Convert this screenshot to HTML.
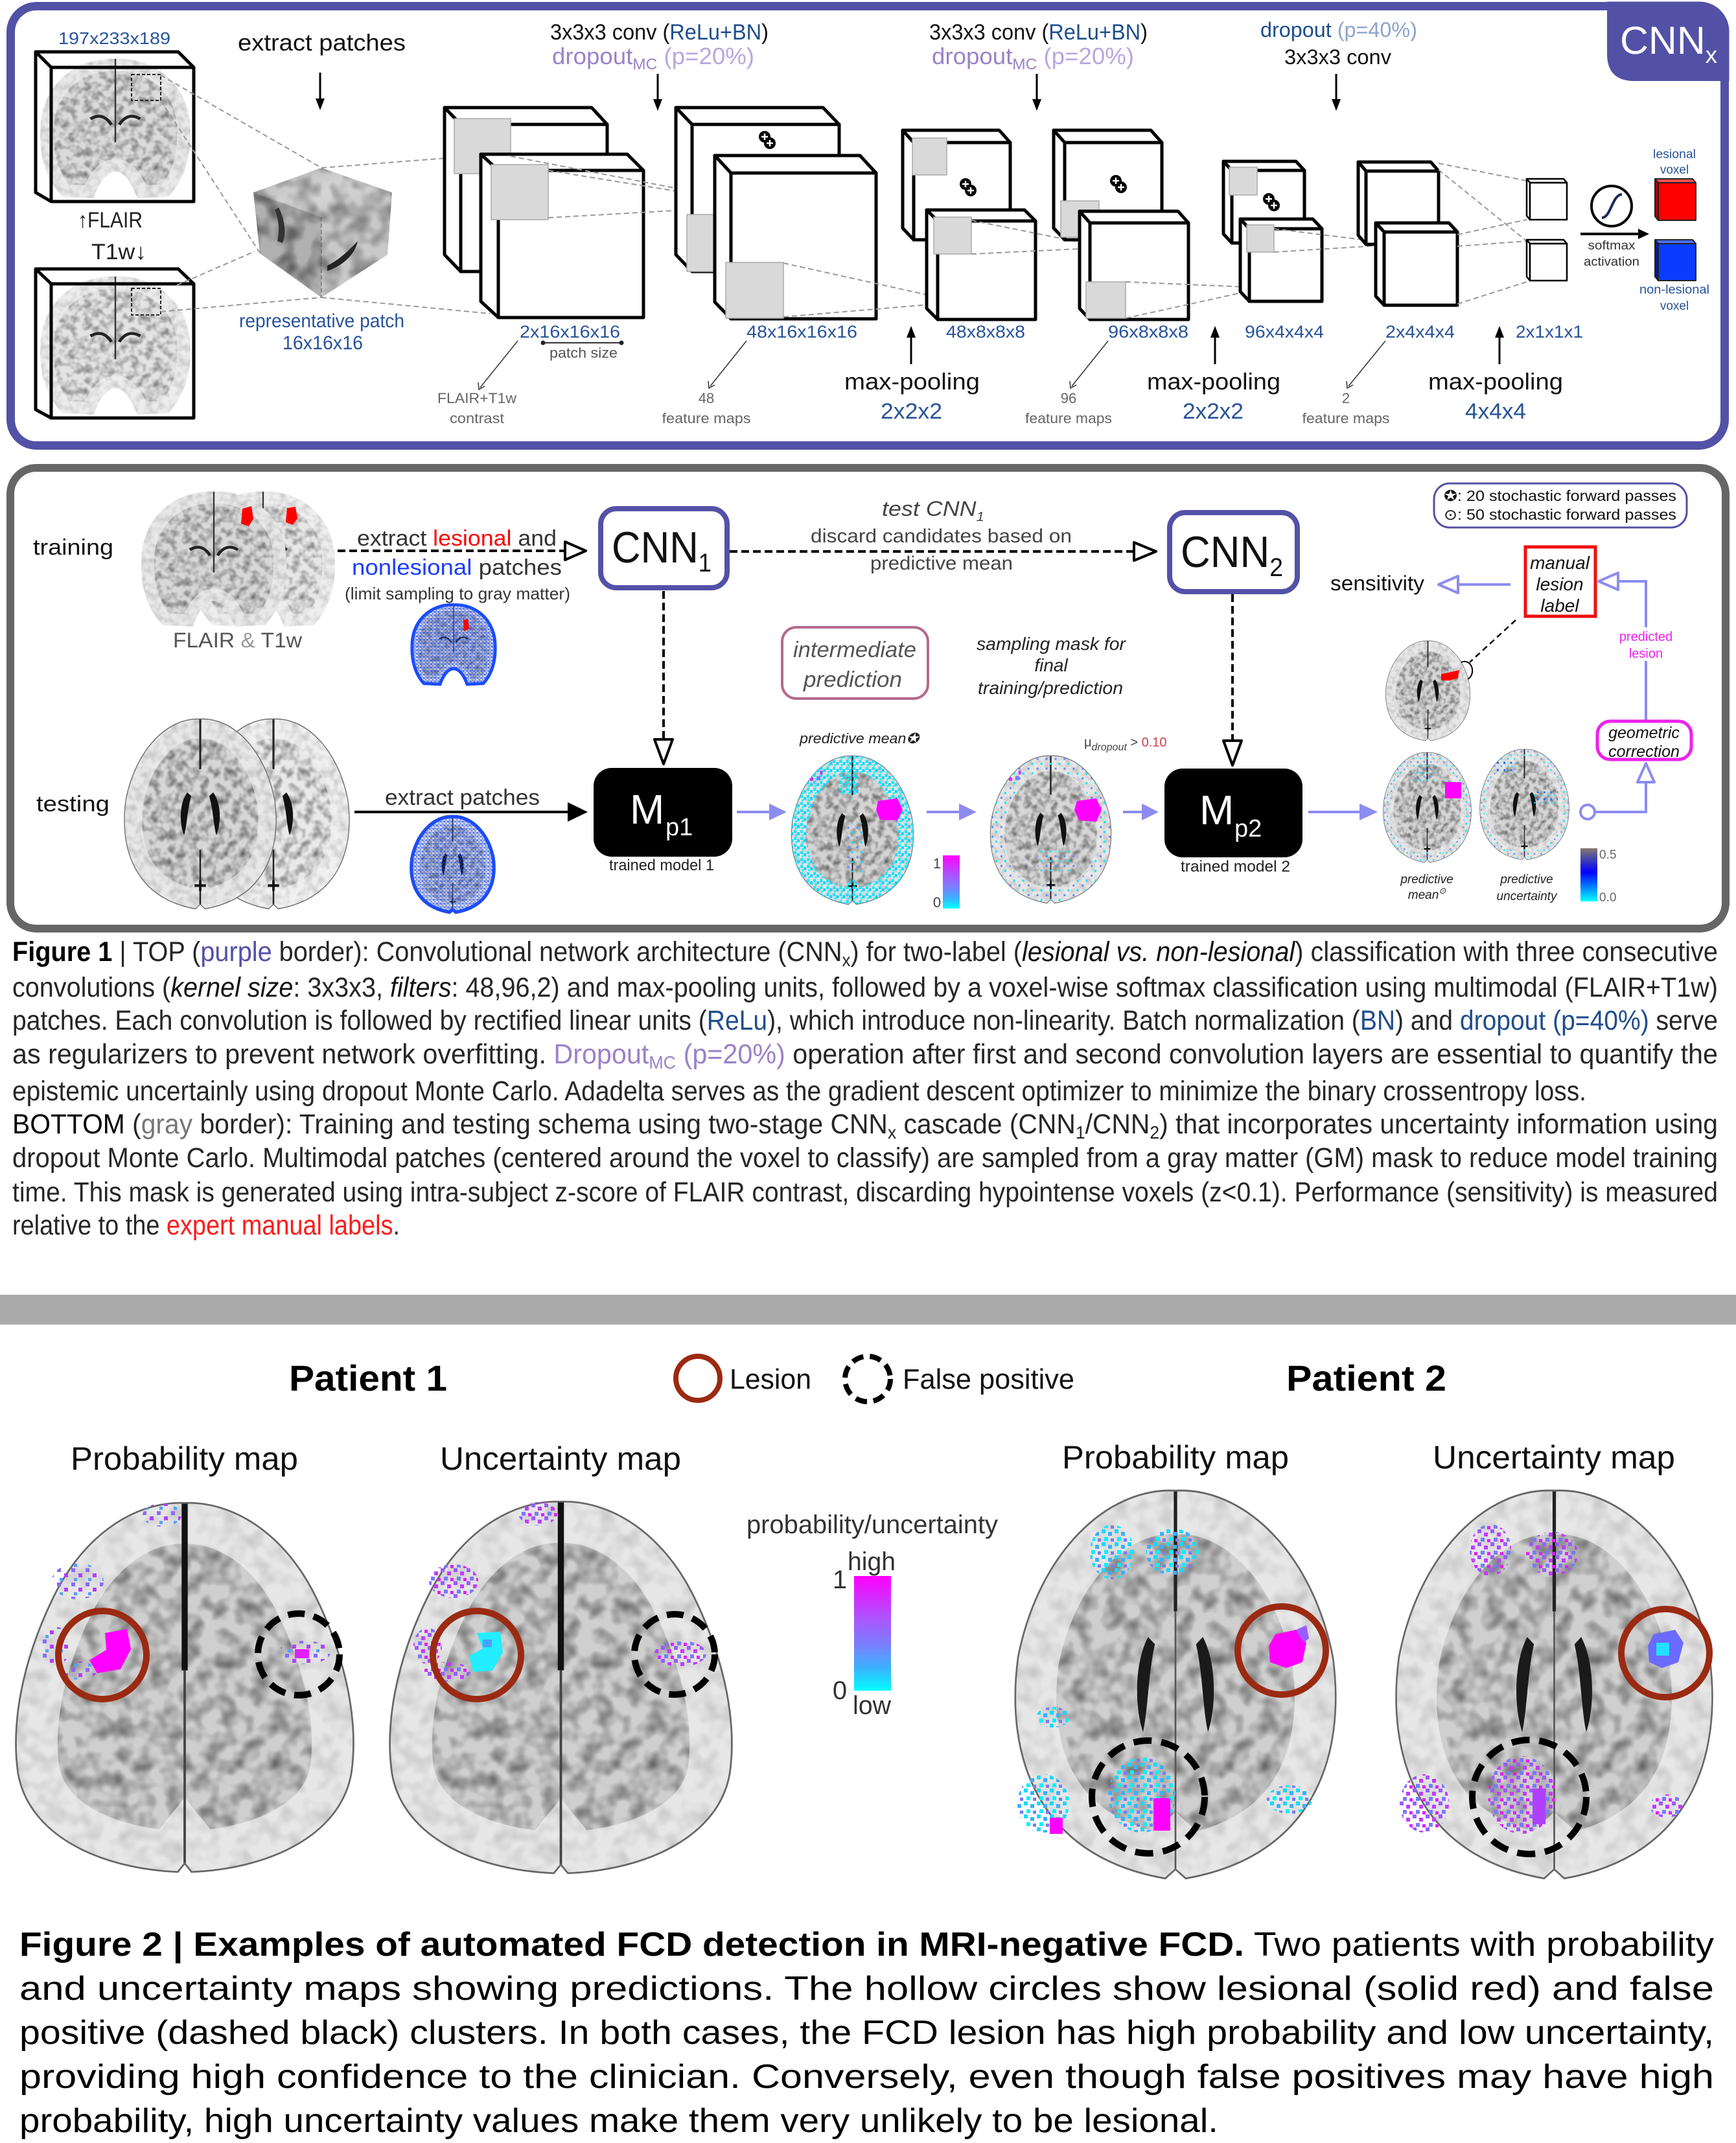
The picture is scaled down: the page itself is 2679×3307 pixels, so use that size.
<!DOCTYPE html>
<html><head><meta charset="utf-8"><title>CNN FCD figure</title>
<style>
html,body{margin:0;padding:0;background:#fff}
svg{display:block}
text{font-family:"Liberation Sans",Arial,sans-serif}
</style></head><body>
<svg xmlns="http://www.w3.org/2000/svg" xmlns:xlink="http://www.w3.org/1999/xlink" width="2679" height="3307" viewBox="0 0 2679 3307">
<defs>
 <filter id="tex" x="0" y="0" width="1" height="1" color-interpolation-filters="sRGB">
  <feTurbulence type="fractalNoise" baseFrequency="0.1" numOctaves="2" seed="7"/>
  <feColorMatrix type="matrix" values="1.8 0 0 0 -0.1  1.8 0 0 0 -0.1  1.8 0 0 0 -0.1  0 0 0 0 1"/>
 </filter>
 <filter id="tex2" x="0" y="0" width="1" height="1" color-interpolation-filters="sRGB">
  <feTurbulence type="fractalNoise" baseFrequency="0.035" numOctaves="2" seed="3"/>
  <feColorMatrix type="matrix" values="2.4 0 0 0 -0.5  2.4 0 0 0 -0.5  2.4 0 0 0 -0.5  0 0 0 0 1"/>
 </filter>
 <clipPath id="axc"><path d="M100,4 C140,2 180,38 192,95 C200,150 180,204 106,216 L100,211 L94,216 C20,204 0,150 8,95 C20,38 60,2 100,4Z"/></clipPath>
 <clipPath id="axe"><path d="M100,2 C128,1 158,20 176,58 C194,96 200,132 196,160 C190,196 150,216 104,218 L100,213 L96,218 C50,216 10,196 4,160 C0,132 6,96 24,58 C42,20 72,1 100,2Z"/></clipPath>
 <clipPath id="coc"><path d="M100,6 C150,4 192,40 196,95 C199,140 188,172 168,194 L128,196 C120,172 110,160 100,160 C90,160 80,172 72,196 L32,194 C12,172 1,140 4,95 C8,40 50,4 100,6Z"/></clipPath>
 <symbol id="axE" viewBox="0 0 200 220" preserveAspectRatio="none">
  <g clip-path="url(#axe)">
   <rect width="200" height="220" fill="currentColor"/>
   <rect width="200" height="220" filter="url(#tex)" opacity="0.45"/>
   <path d="M100,2 C128,1 158,20 176,58 C194,96 200,132 196,160 C190,196 150,216 104,218 L100,213 L96,218 C50,216 10,196 4,160 C0,132 6,96 24,58 C42,20 72,1 100,2Z" fill="none" stroke="#f4f4f4" stroke-width="48" opacity="0.65"/>
   <path d="M100,2 L100,100" stroke="#111" stroke-width="3.5"/>
   <path d="M100,100 L100,216" stroke="#444" stroke-width="1.4"/>
  </g>
  <path d="M100,2 C128,1 158,20 176,58 C194,96 200,132 196,160 C190,196 150,216 104,218 L100,213 L96,218 C50,216 10,196 4,160 C0,132 6,96 24,58 C42,20 72,1 100,2Z" fill="none" stroke="#666" stroke-width="1"/>
 </symbol>
 <symbol id="ax2" viewBox="0 0 200 220" preserveAspectRatio="none">
  <g clip-path="url(#axc)">
   <rect width="200" height="220" fill="currentColor"/>
   <rect width="200" height="220" filter="url(#tex)" opacity="0.5"/>
   <path d="M100,4 C140,2 180,38 192,95 C200,150 180,204 106,216 L100,211 L94,216 C20,204 0,150 8,95 C20,38 60,2 100,4Z" fill="none" stroke="#f4f4f4" stroke-width="44" opacity="0.62"/>
   <path d="M100,2 L100,60" stroke="#222" stroke-width="2.5"/>
   <path d="M100,150 L100,214" stroke="#222" stroke-width="2"/>
   <path d="M84,86 C74,98 74,120 80,134 C84,122 84,104 89,90Z" fill="#111"/>
   <path d="M116,86 C126,98 126,120 120,134 C116,122 116,104 111,90Z" fill="#111"/>
   <path d="M93,190 L107,190 M100,184 L100,196" stroke="#111" stroke-width="3"/>
  </g>
  <path d="M100,4 C140,2 180,38 192,95 C200,150 180,204 106,216 L100,211 L94,216 C20,204 0,150 8,95 C20,38 60,2 100,4Z" fill="none" stroke="#666" stroke-width="1"/>
 </symbol>
 <symbol id="ax3" viewBox="0 0 200 220" preserveAspectRatio="none">
  <g clip-path="url(#axc)">
   <rect width="200" height="220" fill="currentColor"/>
   <rect width="200" height="220" filter="url(#tex)" opacity="0.45"/>
   <path d="M100,4 C140,2 180,38 192,95 C200,150 180,204 106,216 L100,211 L94,216 C20,204 0,150 8,95 C20,38 60,2 100,4Z" fill="none" stroke="#f4f4f4" stroke-width="48" opacity="0.65"/>
   <path d="M100,2 L100,70" stroke="#222" stroke-width="2"/>
   <path d="M100,70 L100,214" stroke="#555" stroke-width="1"/>
   <path d="M84,84 C76,98 76,122 81,136 C84,124 84,104 88,88Z" fill="#1a1a1a"/>
   <path d="M116,84 C124,98 124,122 119,136 C116,124 116,104 112,88Z" fill="#1a1a1a"/>
  </g>
  <path d="M100,4 C140,2 180,38 192,95 C200,150 180,204 106,216 L100,211 L94,216 C20,204 0,150 8,95 C20,38 60,2 100,4Z" fill="none" stroke="#666" stroke-width="1"/>
 </symbol>
 <symbol id="co" viewBox="0 0 200 200" preserveAspectRatio="none">
  <g clip-path="url(#coc)">
   <rect width="200" height="200" fill="currentColor"/>
   <rect width="200" height="200" filter="url(#tex)" opacity="0.45"/>
   <path d="M100,6 C150,4 192,40 196,95 C199,140 188,172 168,194 L128,196 C120,172 110,160 100,160 C90,160 80,172 72,196 L32,194 C12,172 1,140 4,95 C8,40 50,4 100,6Z" fill="none" stroke="#f4f4f4" stroke-width="34" opacity="0.6"/>
   <path d="M100,6 L100,120" stroke="#333" stroke-width="2"/>
   <path d="M68,88 Q84,78 95,96 M105,96 Q116,78 132,88" stroke="#222" stroke-width="4" fill="none"/>
  </g>
 </symbol>
 <symbol id="opl" viewBox="0 0 30 30">
  <circle cx="11" cy="10" r="9" fill="#000"/><circle cx="19" cy="20" r="9" fill="#000"/>
  <path d="M11,5v10M6,10h10M19,15v10M14,20h10" stroke="#fff" stroke-width="2.5"/>
 </symbol>
 <pattern id="spC" width="20" height="20" patternUnits="userSpaceOnUse">
  <rect x="0" y="0" width="6" height="6" fill="#19d8ff"/><rect x="10" y="4" width="6" height="6" fill="#3ab0ff"/>
  <rect x="4" y="12" width="6" height="6" fill="#00f0ff"/><rect x="14" y="14" width="5" height="5" fill="#7a7aff"/>
 </pattern>
 <pattern id="spM" width="20" height="20" patternUnits="userSpaceOnUse">
  <rect x="0" y="0" width="6" height="6" fill="#9b5cff"/><rect x="10" y="5" width="6" height="6" fill="#c33cff"/>
  <rect x="5" y="13" width="6" height="6" fill="#7a7aff"/><rect x="15" y="15" width="5" height="5" fill="#e020ff"/>
 </pattern>
 <pattern id="spP" width="22" height="22" patternUnits="userSpaceOnUse">
  <rect x="0" y="0" width="6" height="6" fill="#8a6bff"/><rect x="11" y="8" width="6" height="6" fill="#b040ff"/>
  <rect x="4" y="15" width="5" height="5" fill="#5aa0ff"/>
 </pattern>
 <pattern id="pc" width="10" height="10" patternUnits="userSpaceOnUse">
  <rect x="0" y="0" width="4" height="4" fill="#00e8ff"/><rect x="5" y="3" width="4" height="4" fill="#10d0ff"/>
  <rect x="2" y="6" width="3" height="3" fill="#00ffff"/>
 </pattern>
 <pattern id="pcs" width="14" height="14" patternUnits="userSpaceOnUse">
  <rect x="0" y="0" width="3" height="3" fill="#00e8ff"/><rect x="8" y="7" width="3" height="3" fill="#6a8aff"/>
 </pattern>
 <pattern id="pbs" width="14" height="14" patternUnits="userSpaceOnUse">
  <rect x="0" y="0" width="4" height="4" fill="#1a70ff"/><rect x="8" y="7" width="3" height="3" fill="#00e0ff"/>
 </pattern>
 <pattern id="pbd" width="8" height="8" patternUnits="userSpaceOnUse">
  <rect x="0" y="0" width="4" height="4" fill="#1a4cff"/><rect x="4" y="4" width="3" height="3" fill="#2a5cff"/><rect x="5" y="0" width="2" height="2" fill="#1040ff"/>
 </pattern>
 <linearGradient id="cbar" x1="0" y1="0" x2="0" y2="1">
  <stop offset="0" stop-color="#ff00ff"/><stop offset="0.35" stop-color="#b050ff"/><stop offset="0.6" stop-color="#7a80ff"/><stop offset="0.8" stop-color="#3cb0ff"/><stop offset="1" stop-color="#00ffff"/>
 </linearGradient>
 <linearGradient id="cbar2" x1="0" y1="0" x2="0" y2="1">
  <stop offset="0" stop-color="#8a7a70"/><stop offset="0.15" stop-color="#5050a0"/><stop offset="0.45" stop-color="#0000ff"/><stop offset="1" stop-color="#00ffff"/>
 </linearGradient>
 <linearGradient id="cubeTop" x1="0" y1="0" x2="1" y2="1">
  <stop offset="0" stop-color="#8f8f8f"/><stop offset="0.5" stop-color="#c4c4c4"/><stop offset="1" stop-color="#a0a0a0"/>
 </linearGradient>
 <clipPath id="topclip"><rect x="9.5" y="2.5" width="2659" height="692" rx="46"/></clipPath>
 <clipPath id="cubeclip"><polygon points="496,259 605,297 598,393 496,459 401,391 391,297"/></clipPath>
</defs>

<!-- ================= TOP PANEL ================= -->
<rect x="16.5" y="9.5" width="2645" height="678" rx="40" fill="#fff" stroke="#5351a6" stroke-width="13"/>
<path d="M2480,0 L2679,0 L2679,125 L2522,125 Q2480,125 2480,83 Z" fill="#5351a6" clip-path="url(#topclip)"/>
<text x="2500" y="83" font-size="60" fill="#fff" textLength="150" lengthAdjust="spacingAndGlyphs">CNN<tspan font-size="36" dy="14">x</tspan></text>

<text x="90" y="68" font-size="26" fill="#27539a" textLength="173" lengthAdjust="spacingAndGlyphs">197x233x189</text>
<use href="#co" x="58" y="84" width="240" height="226" style="color:#bcbcbc"/>
<g fill="none" stroke="#000" stroke-width="5" stroke-linejoin="round">
 <polygon points="55,80 275,80 299,104 79,104"/>
 <polyline points="55,80 55,297 79,311"/>
 <rect x="79" y="104" width="220" height="207"/>
</g>
<rect x="203" y="115" width="45" height="40" fill="none" stroke="#222" stroke-width="2" stroke-dasharray="5 3"/>
<text x="120" y="351" font-size="34" fill="#222" textLength="100" lengthAdjust="spacingAndGlyphs">↑FLAIR</text>
<text x="141" y="400" font-size="34" fill="#222" textLength="85" lengthAdjust="spacingAndGlyphs">T1w↓</text>
<use href="#co" x="58" y="420" width="240" height="224" style="color:#cccccc"/>
<g fill="none" stroke="#000" stroke-width="5" stroke-linejoin="round">
 <polygon points="55,415 275,415 299,438 79,438"/>
 <polyline points="55,415 55,632 79,645"/>
 <rect x="79" y="438" width="220" height="207"/>
</g>
<rect x="203" y="445" width="45" height="41" fill="none" stroke="#222" stroke-width="2" stroke-dasharray="5 3"/>

<text x="367" y="78" font-size="36" fill="#111" textLength="259" lengthAdjust="spacingAndGlyphs">extract patches</text>
<line x1="494" y1="112" x2="494" y2="155" stroke="#000" stroke-width="3"/>
<polygon points="487,152 501,152 494,170" fill="#000"/>

<g stroke="#999" stroke-width="2" stroke-dasharray="8 5" fill="none">
 <line x1="248" y1="116" x2="496" y2="259"/>
 <line x1="248" y1="155" x2="401" y2="390"/>
 <line x1="273" y1="440" x2="393" y2="388"/>
 <line x1="248" y1="481" x2="496" y2="459"/>
 <line x1="496" y1="259" x2="701" y2="243"/>
 <line x1="496" y1="459" x2="757" y2="484"/>
</g>

<polygon points="496,259 605,297 496,335 391,297" fill="url(#cubeTop)"/>
<polygon points="391,297 496,335 496,459 401,391" fill="#8e8e8e"/>
<polygon points="605,297 496,335 496,459 598,393" fill="#b2b2b2"/>
<rect x="380" y="250" width="230" height="215" filter="url(#tex2)" opacity="0.3" clip-path="url(#cubeclip)"/>
<path d="M505,410 C525,400 540,385 552,372 C548,392 530,410 505,418Z" fill="#222"/>
<path d="M430,320 C440,340 442,360 436,375 L428,372 C432,355 430,338 424,324Z" fill="#333"/>
<line x1="496" y1="335" x2="496" y2="459" stroke="#555" stroke-width="1" stroke-dasharray="6 4"/>
<text x="369" y="505" font-size="30" fill="#27539a" textLength="255" lengthAdjust="spacingAndGlyphs">representative patch</text>
<text x="436" y="539" font-size="30" fill="#27539a" textLength="124" lengthAdjust="spacingAndGlyphs">16x16x16</text>

<text x="849" y="61" font-size="34" fill="#111" textLength="337" lengthAdjust="spacingAndGlyphs">3x3x3 conv (<tspan fill="#1f4e8c">ReLu+BN</tspan>)</text>
<text x="852" y="99" font-size="36" fill="#9b82c8" textLength="312" lengthAdjust="spacingAndGlyphs">dropout<tspan font-size="24" dy="8">MC</tspan><tspan dy="-8" fill="#b9a6de"> (p=20%)</tspan></text>
<line x1="1015" y1="114" x2="1015" y2="156" stroke="#000" stroke-width="3"/>
<polygon points="1008,153 1022,153 1015,171" fill="#000"/>
<text x="1434" y="61" font-size="34" fill="#111" textLength="337" lengthAdjust="spacingAndGlyphs">3x3x3 conv (<tspan fill="#1f4e8c">ReLu+BN</tspan>)</text>
<text x="1438" y="99" font-size="36" fill="#9b82c8" textLength="312" lengthAdjust="spacingAndGlyphs">dropout<tspan font-size="24" dy="8">MC</tspan><tspan dy="-8" fill="#b9a6de"> (p=20%)</tspan></text>
<line x1="1600" y1="114" x2="1600" y2="156" stroke="#000" stroke-width="3"/>
<polygon points="1593,153 1607,153 1600,171" fill="#000"/>
<text x="1945" y="57" font-size="32" fill="#1f4e8c" textLength="242" lengthAdjust="spacingAndGlyphs">dropout <tspan fill="#8da4cc">(p=40%)</tspan></text>
<text x="1982" y="99" font-size="32" fill="#111" textLength="165" lengthAdjust="spacingAndGlyphs">3x3x3 conv</text>
<line x1="2062" y1="114" x2="2062" y2="156" stroke="#000" stroke-width="3"/>
<polygon points="2055,153 2069,153 2062,171" fill="#000"/>

<!-- Block 1 -->
<g fill="#fff" stroke="#000" stroke-width="5" stroke-linejoin="round">
 <polygon points="686,166 913,166 937,192 711,192"/>
 <polygon points="686,166 711,192 711,419 686,393"/>
 <rect x="711" y="192" width="226" height="227"/>
</g>
<rect x="701" y="183" width="87" height="85" fill="#d9d9d9" stroke="#aaa" stroke-width="1.5"/>
<g fill="#fff" stroke="#000" stroke-width="5" stroke-linejoin="round">
 <polygon points="742,238 968,238 993,263 769,263"/>
 <polygon points="742,238 769,263 769,490 742,465"/>
 <rect x="769" y="263" width="224" height="227"/>
</g>
<rect x="758" y="254" width="88" height="85" fill="#d9d9d9" stroke="#aaa" stroke-width="1.5"/>
<g stroke="#999" stroke-width="2" stroke-dasharray="8 5" fill="none">
 <line x1="846" y1="263" x2="1180" y2="317"/>
 <line x1="846" y1="336" x2="1180" y2="317"/>
 <line x1="788" y1="241" x2="1180" y2="317"/>
</g>
<text x="802" y="521" font-size="27" fill="#27539a" textLength="155" lengthAdjust="spacingAndGlyphs">2x16x16x16</text>
<line x1="838" y1="529" x2="959" y2="529" stroke="#333" stroke-width="2"/>
<circle cx="838" cy="529" r="3.5" fill="#222"/><circle cx="959" cy="529" r="3.5" fill="#222"/>
<text x="848" y="552" font-size="22" fill="#555" textLength="105" lengthAdjust="spacingAndGlyphs">patch size</text>
<line x1="799" y1="526" x2="741" y2="598" stroke="#333" stroke-width="1.5"/>
<polyline points="738,590 739,601 748,596" fill="none" stroke="#333" stroke-width="1.5"/>
<text x="736" y="622" font-size="22" fill="#666" text-anchor="middle" textLength="122" lengthAdjust="spacingAndGlyphs">FLAIR+T1w</text>
<text x="736" y="653" font-size="22" fill="#666" text-anchor="middle" textLength="84" lengthAdjust="spacingAndGlyphs">contrast</text>

<!-- Block 2 -->
<g fill="#fff" stroke="#000" stroke-width="5" stroke-linejoin="round">
 <polygon points="1043,166 1270,166 1295,192 1068,192"/>
 <polygon points="1043,166 1068,192 1068,419 1043,393"/>
 <rect x="1068" y="192" width="227" height="227"/>
</g>
<rect x="1060" y="331" width="43" height="88" fill="#d9d9d9" stroke="#aaa" stroke-width="1.5"/>
<use href="#opl" x="1169" y="201" width="30" height="30"/>
<g fill="#fff" stroke="#000" stroke-width="5" stroke-linejoin="round">
 <polygon points="1103,240 1327,240 1352,267 1128,267"/>
 <polygon points="1103,240 1128,267 1128,492 1103,466"/>
 <rect x="1128" y="267" width="224" height="225"/>
</g>
<rect x="1120" y="405" width="89" height="86" fill="#d9d9d9" stroke="#aaa" stroke-width="1.5"/>
<g stroke="#999" stroke-width="2" stroke-dasharray="8 5" fill="none">
 <line x1="1209" y1="406" x2="1481" y2="466"/>
 <line x1="1209" y1="489" x2="1481" y2="466"/>
</g>
<text x="1152" y="521" font-size="27" fill="#27539a" textLength="171" lengthAdjust="spacingAndGlyphs">48x16x16x16</text>
<line x1="1152" y1="526" x2="1096" y2="596" stroke="#333" stroke-width="1.5"/>
<polyline points="1093,588 1094,599 1103,594" fill="none" stroke="#333" stroke-width="1.5"/>
<text x="1090" y="622" font-size="22" fill="#666" text-anchor="middle">48</text>
<text x="1090" y="653" font-size="22" fill="#666" text-anchor="middle" textLength="137" lengthAdjust="spacingAndGlyphs">feature maps</text>

<!-- Block 3 -->
<g fill="#fff" stroke="#000" stroke-width="5" stroke-linejoin="round">
 <polygon points="1393,201 1542,201 1559,220 1410,220"/>
 <polygon points="1393,201 1410,220 1410,370 1393,352"/>
 <rect x="1410" y="220" width="149" height="150"/>
</g>
<rect x="1408" y="213" width="53" height="57" fill="#d9d9d9" stroke="#aaa" stroke-width="1.5"/>
<use href="#opl" x="1479" y="274" width="30" height="30"/>
<g fill="#fff" stroke="#000" stroke-width="5" stroke-linejoin="round">
 <polygon points="1430,324 1581,324 1598,341 1447,341"/>
 <polygon points="1430,324 1447,341 1447,493 1430,476"/>
 <rect x="1447" y="341" width="151" height="152"/>
</g>
<rect x="1441" y="335" width="58" height="57" fill="#d9d9d9" stroke="#aaa" stroke-width="1.5"/>
<g stroke="#999" stroke-width="2" stroke-dasharray="8 5" fill="none">
 <line x1="1499" y1="340" x2="1707" y2="382"/>
 <line x1="1499" y1="392" x2="1707" y2="382"/>
</g>
<text x="1460" y="521" font-size="27" fill="#27539a" textLength="122" lengthAdjust="spacingAndGlyphs">48x8x8x8</text>
<line x1="1406" y1="562" x2="1406" y2="518" stroke="#000" stroke-width="3"/>
<polygon points="1399,521 1413,521 1406,503" fill="#000"/>
<text x="1303" y="601" font-size="36" fill="#111" textLength="209" lengthAdjust="spacingAndGlyphs">max-pooling</text>
<text x="1359" y="646" font-size="34" fill="#27539a" textLength="95" lengthAdjust="spacingAndGlyphs">2x2x2</text>

<!-- Block 4 -->
<g fill="#fff" stroke="#000" stroke-width="5" stroke-linejoin="round">
 <polygon points="1626,201 1776,201 1793,220 1643,220"/>
 <polygon points="1626,201 1643,220 1643,370 1626,352"/>
 <rect x="1643" y="220" width="150" height="150"/>
</g>
<rect x="1637" y="310" width="59" height="56" fill="#d9d9d9" stroke="#aaa" stroke-width="1.5"/>
<use href="#opl" x="1711" y="269" width="30" height="30"/>
<g fill="#fff" stroke="#000" stroke-width="5" stroke-linejoin="round">
 <polygon points="1666,326 1818,326 1834,344 1682,344"/>
 <polygon points="1666,326 1682,344 1682,493 1666,476"/>
 <rect x="1682" y="344" width="152" height="149"/>
</g>
<rect x="1676" y="435" width="61" height="56" fill="#d9d9d9" stroke="#aaa" stroke-width="1.5"/>
<g stroke="#999" stroke-width="2" stroke-dasharray="8 5" fill="none">
 <line x1="1737" y1="435" x2="1951" y2="444"/>
 <line x1="1737" y1="491" x2="1951" y2="444"/>
</g>
<text x="1710" y="521" font-size="27" fill="#27539a" textLength="124" lengthAdjust="spacingAndGlyphs">96x8x8x8</text>
<line x1="1710" y1="526" x2="1654" y2="596" stroke="#333" stroke-width="1.5"/>
<polyline points="1651,588 1652,599 1661,594" fill="none" stroke="#333" stroke-width="1.5"/>
<text x="1649" y="622" font-size="22" fill="#666" text-anchor="middle">96</text>
<text x="1649" y="653" font-size="22" fill="#666" text-anchor="middle" textLength="134" lengthAdjust="spacingAndGlyphs">feature maps</text>
<line x1="1875" y1="562" x2="1875" y2="518" stroke="#000" stroke-width="3"/>
<polygon points="1868,521 1882,521 1875,503" fill="#000"/>
<text x="1770" y="601" font-size="36" fill="#111" textLength="206" lengthAdjust="spacingAndGlyphs">max-pooling</text>
<text x="1825" y="646" font-size="34" fill="#27539a" textLength="94" lengthAdjust="spacingAndGlyphs">2x2x2</text>

<!-- Block 5 -->
<g fill="#fff" stroke="#000" stroke-width="5" stroke-linejoin="round">
 <polygon points="1888,249 2000,249 2013,263 1901,263"/>
 <polygon points="1888,249 1901,263 1901,375 1888,361"/>
 <rect x="1901" y="263" width="112" height="112"/>
</g>
<rect x="1897" y="258" width="43" height="43" fill="#d9d9d9" stroke="#aaa" stroke-width="1.5"/>
<use href="#opl" x="1947" y="297" width="30" height="30"/>
<g fill="#fff" stroke="#000" stroke-width="5" stroke-linejoin="round">
 <polygon points="1914,338 2026,338 2040,353 1928,353"/>
 <polygon points="1914,338 1928,353 1928,465 1914,450"/>
 <rect x="1928" y="353" width="112" height="112"/>
</g>
<rect x="1924" y="347" width="42" height="42" fill="#d9d9d9" stroke="#aaa" stroke-width="1.5"/>
<g stroke="#999" stroke-width="2" stroke-dasharray="8 5" fill="none">
 <line x1="1966" y1="353" x2="2160" y2="377"/>
 <line x1="1966" y1="389" x2="2160" y2="377"/>
</g>
<text x="1921" y="521" font-size="27" fill="#27539a" textLength="122" lengthAdjust="spacingAndGlyphs">96x4x4x4</text>

<!-- Block 6 -->
<g fill="#fff" stroke="#000" stroke-width="5" stroke-linejoin="round">
 <polygon points="2096,250 2208,250 2220,264 2108,264"/>
 <polygon points="2096,250 2108,264 2108,377 2096,363"/>
 <rect x="2108" y="264" width="112" height="113"/>
</g>
<g fill="#fff" stroke="#000" stroke-width="5" stroke-linejoin="round">
 <polygon points="2123,344 2236,344 2249,358 2136,358"/>
 <polygon points="2123,344 2136,358 2136,471 2123,457"/>
 <rect x="2136" y="358" width="113" height="113"/>
</g>
<g stroke="#999" stroke-width="2" stroke-dasharray="8 5" fill="none">
 <line x1="2220" y1="252" x2="2356" y2="279"/>
 <line x1="2220" y1="262" x2="2356" y2="372"/>
 <line x1="2249" y1="362" x2="2356" y2="339"/>
 <line x1="2249" y1="380" x2="2356" y2="372"/>
 <line x1="2249" y1="469" x2="2356" y2="435"/>
</g>
<text x="2138" y="521" font-size="27" fill="#27539a" textLength="107" lengthAdjust="spacingAndGlyphs">2x4x4x4</text>
<line x1="2138" y1="526" x2="2081" y2="596" stroke="#333" stroke-width="1.5"/>
<polyline points="2078,588 2079,599 2088,594" fill="none" stroke="#333" stroke-width="1.5"/>
<text x="2077" y="622" font-size="22" fill="#666" text-anchor="middle">2</text>
<text x="2077" y="653" font-size="22" fill="#666" text-anchor="middle" textLength="135" lengthAdjust="spacingAndGlyphs">feature maps</text>
<line x1="2314" y1="562" x2="2314" y2="518" stroke="#000" stroke-width="3"/>
<polygon points="2307,521 2321,521 2314,503" fill="#000"/>
<text x="2204" y="601" font-size="36" fill="#111" textLength="208" lengthAdjust="spacingAndGlyphs">max-pooling</text>
<text x="2261" y="646" font-size="34" fill="#27539a" textLength="94" lengthAdjust="spacingAndGlyphs">4x4x4</text>

<g fill="#fff" stroke="#000" stroke-width="2.5" stroke-linejoin="round">
 <polygon points="2356,276 2413,276 2418,282 2361,282"/>
 <polygon points="2356,276 2361,282 2361,339 2356,333"/>
 <rect x="2361" y="282" width="57" height="57"/>
 <polygon points="2356,370 2413,370 2418,376 2361,376"/>
 <polygon points="2356,370 2361,376 2361,433 2356,427"/>
 <rect x="2361" y="376" width="57" height="57"/>
</g>
<text x="2339" y="521" font-size="27" fill="#27539a" textLength="104" lengthAdjust="spacingAndGlyphs">2x1x1x1</text>
<circle cx="2487" cy="318" r="31" fill="#fff" stroke="#000" stroke-width="4"/>
<path d="M2472,336 C2486,336 2488,300 2503,300" fill="none" stroke="#1a2a5a" stroke-width="4"/>
<line x1="2439" y1="361" x2="2530" y2="361" stroke="#000" stroke-width="4"/>
<polygon points="2528,353 2545,361 2528,369" fill="#000"/>
<text x="2487" y="385" font-size="19" fill="#333" text-anchor="middle" textLength="73" lengthAdjust="spacingAndGlyphs">softmax</text>
<text x="2487" y="410" font-size="19" fill="#333" text-anchor="middle" textLength="86" lengthAdjust="spacingAndGlyphs">activation</text>
<text x="2584" y="244" font-size="19" fill="#27539a" text-anchor="middle" textLength="66" lengthAdjust="spacingAndGlyphs">lesional</text>
<text x="2584" y="268" font-size="19" fill="#27539a" text-anchor="middle">voxel</text>
<g stroke="#222" stroke-width="2" stroke-linejoin="round">
 <polygon points="2554,276 2612,276 2617,282 2559,282" fill="#ff5050"/>
 <polygon points="2554,276 2559,282 2559,340 2554,334" fill="#b00000"/>
 <rect x="2559" y="282" width="58" height="58" fill="#ff0000"/>
 <polygon points="2554,370 2612,370 2617,376 2559,376" fill="#4a70ff"/>
 <polygon points="2554,370 2559,376 2559,433 2554,427" fill="#001a9a"/>
 <rect x="2559" y="376" width="58" height="57" fill="#0a3cff"/>
</g>
<text x="2584" y="453" font-size="19" fill="#27539a" text-anchor="middle" textLength="108" lengthAdjust="spacingAndGlyphs">non-lesional</text>
<text x="2584" y="478" font-size="19" fill="#27539a" text-anchor="middle">voxel</text>

<!-- ================= MIDDLE PANEL ================= -->
<rect x="16" y="722" width="2647" height="711" rx="40" fill="#fff" stroke="#666" stroke-width="12"/>

<text x="51" y="856" font-size="34" fill="#111" textLength="124" lengthAdjust="spacingAndGlyphs">training</text>
<use href="#co" x="291" y="752" width="230" height="219" style="color:#d4d4d4"/>
<use href="#co" x="214" y="752" width="232" height="219" style="color:#b8b8b8"/>
<path d="M374,785 L388,781 L391,800 L384,812 L372,808Z" fill="#ff0000"/>
<path d="M443,784 L456,782 L459,800 L452,810 L441,806Z" fill="#ff0000"/>
<text x="267" y="999" font-size="32" fill="#555" textLength="199" lengthAdjust="spacingAndGlyphs">FLAIR <tspan fill="#999">&amp;</tspan> T1w</text>

<line x1="521" y1="850" x2="872" y2="850" stroke="#000" stroke-width="4" stroke-dasharray="12 6"/>
<polygon points="872,836 904,850 872,864" fill="#fff" stroke="#000" stroke-width="4" stroke-linejoin="round"/>
<text x="551" y="842" font-size="34" fill="#333" textLength="308" lengthAdjust="spacingAndGlyphs">extract <tspan fill="#ff0000">lesional</tspan> and</text>
<text x="543" y="887" font-size="34" fill="#1a3cff" textLength="324" lengthAdjust="spacingAndGlyphs">nonlesional<tspan fill="#333"> patches</tspan></text>
<text x="532" y="925" font-size="26" fill="#333" textLength="348" lengthAdjust="spacingAndGlyphs">(limit sampling to gray matter)</text>
<use href="#co" x="631" y="927" width="138" height="134" style="color:#a0a0a0"/>
<g clip-path="url(#coc)" transform="translate(631,927) scale(0.69,0.67)">
 <rect width="200" height="200" fill="url(#pbd)" opacity="0.75"/>
 <path d="M100,6 C150,4 192,40 196,95 C199,140 188,172 168,194 L128,196 C120,172 110,160 100,160 C90,160 80,172 72,196 L32,194 C12,172 1,140 4,95 C8,40 50,4 100,6Z" fill="none" stroke="#1a4cff" stroke-width="14"/>
</g>
<path d="M715,957 L722,955 L724,970 L716,974Z" fill="#ff0000"/>

<rect x="927" y="785" width="195" height="122" rx="24" fill="#fff" stroke="#5351a6" stroke-width="8"/>
<text x="944" y="868" font-size="68" fill="#111" textLength="154" lengthAdjust="spacingAndGlyphs">CNN<tspan font-size="40" dy="14">1</tspan></text>
<line x1="1126" y1="851" x2="1750" y2="851" stroke="#000" stroke-width="4" stroke-dasharray="12 6"/>
<polygon points="1750,837 1784,851 1750,865" fill="#fff" stroke="#000" stroke-width="4" stroke-linejoin="round"/>
<rect x="1250" y="810" width="406" height="32" fill="#fff"/>
<rect x="1340" y="856" width="226" height="30" fill="#fff"/>
<text x="1361" y="796" font-size="32" font-style="italic" fill="#444" textLength="158" lengthAdjust="spacingAndGlyphs">test CNN<tspan font-size="20" dy="8">1</tspan></text>
<text x="1251" y="837" font-size="30" fill="#444" textLength="403" lengthAdjust="spacingAndGlyphs">discard candidates based on</text>
<text x="1343" y="879" font-size="30" fill="#444" textLength="220" lengthAdjust="spacingAndGlyphs">predictive mean</text>

<rect x="1805" y="791" width="197" height="122" rx="24" fill="#fff" stroke="#5351a6" stroke-width="8"/>
<text x="1822" y="875" font-size="68" fill="#111" textLength="158" lengthAdjust="spacingAndGlyphs">CNN<tspan font-size="40" dy="14">2</tspan></text>

<line x1="1024" y1="912" x2="1024" y2="1141" stroke="#000" stroke-width="4" stroke-dasharray="12 6"/>
<polygon points="1010,1141 1038,1141 1024,1179" fill="#fff" stroke="#000" stroke-width="4" stroke-linejoin="round"/>
<line x1="1902" y1="917" x2="1902" y2="1143" stroke="#000" stroke-width="4" stroke-dasharray="12 6"/>
<polygon points="1888,1143 1916,1143 1902,1181" fill="#fff" stroke="#000" stroke-width="4" stroke-linejoin="round"/>

<text x="56" y="1252" font-size="34" fill="#111" textLength="113" lengthAdjust="spacingAndGlyphs">testing</text>
<use href="#ax2" x="297" y="1104" width="250" height="304" style="color:#d2d2d2"/>
<use href="#ax2" x="184" y="1104" width="250" height="304" style="color:#acacac"/>
<line x1="547" y1="1253" x2="880" y2="1253" stroke="#000" stroke-width="4"/>
<polygon points="876,1238 907,1253 876,1268" fill="#000"/>
<text x="594" y="1242" font-size="34" fill="#333" textLength="239" lengthAdjust="spacingAndGlyphs">extract patches</text>
<use href="#ax2" x="628" y="1255" width="141" height="158" style="color:#a0a0a0"/>
<g clip-path="url(#axc)" transform="translate(628,1255) scale(0.705,0.718)">
 <rect width="200" height="220" fill="url(#pbd)" opacity="0.7"/>
 <path d="M100,4 C140,2 180,38 192,95 C200,150 180,204 106,216 L100,211 L94,216 C20,204 0,150 8,95 C20,38 60,2 100,4Z" fill="none" stroke="#1a4cff" stroke-width="14"/>
</g>

<rect x="916" y="1185" width="214" height="137" rx="28" fill="#000"/>
<text x="972" y="1271" font-size="64" fill="#fff">M</text>
<text x="1027" y="1289" font-size="38" fill="#fff">p1</text>
<text x="940" y="1343" font-size="24" fill="#222" textLength="162" lengthAdjust="spacingAndGlyphs">trained model 1</text>

<rect x="1207" y="968" width="225" height="110" rx="22" fill="#fff" stroke="#b46a8e" stroke-width="4"/>
<text x="1319" y="1014" font-size="34" font-style="italic" fill="#555" text-anchor="middle" textLength="190" lengthAdjust="spacingAndGlyphs">intermediate</text>
<text x="1316" y="1060" font-size="34" font-style="italic" fill="#555" text-anchor="middle" textLength="152" lengthAdjust="spacingAndGlyphs">prediction</text>

<g stroke="#8c8cf0" stroke-width="4" fill="#8c8cf0">
 <line x1="1137" y1="1253" x2="1190" y2="1253"/>
 <polygon points="1187,1240 1214,1253 1187,1266" stroke="none"/>
 <line x1="1430" y1="1253" x2="1482" y2="1253"/>
 <polygon points="1480,1240 1507,1253 1480,1266" stroke="none"/>
 <line x1="1733" y1="1253" x2="1765" y2="1253"/>
 <polygon points="1762,1240 1788,1253 1762,1266" stroke="none"/>
 <line x1="2019" y1="1253" x2="2100" y2="1253"/>
 <polygon points="2098,1240 2126,1253 2098,1266" stroke="none"/>
</g>

<text x="1234" y="1147" font-size="22" font-style="italic" fill="#222" textLength="184" lengthAdjust="spacingAndGlyphs">predictive mean✪</text>
<use href="#ax2" x="1215" y="1162" width="201" height="238" style="color:#a8a8a8"/>
<g clip-path="url(#axc)" transform="translate(1215,1162) scale(1.005,1.082)">
 <path d="M100,4 C140,2 180,38 192,95 C200,150 180,204 106,216 L100,211 L94,216 C20,204 0,150 8,95 C20,38 60,2 100,4Z" fill="none" stroke="url(#pc)" stroke-width="48"/>
 <rect x="90" y="100" width="30" height="70" fill="url(#pcs)"/>
 <rect x="80" y="20" width="30" height="40" fill="url(#pc)"/>
 <rect x="30" y="22" width="24" height="18" fill="url(#spM)"/>
</g>
<path d="M1355,1236 L1385,1232 L1393,1250 L1385,1266 L1358,1265 L1352,1250Z" fill="#ff00ff"/>
<rect x="1455" y="1320" width="26" height="82" fill="url(#cbar)"/>
<text x="1446" y="1340" font-size="22" fill="#444" text-anchor="middle">1</text>
<text x="1446" y="1400" font-size="22" fill="#444" text-anchor="middle">0</text>

<text x="1673" y="1152" font-size="20" fill="#444">μ<tspan font-size="16" font-style="italic" dy="6">dropout</tspan><tspan dy="-6"> &gt; </tspan><tspan fill="#d04050">0.10</tspan></text>
<use href="#ax2" x="1522" y="1162" width="199" height="236" style="color:#acacac"/>
<g clip-path="url(#axc)" transform="translate(1522,1162) scale(0.995,1.073)">
 <path d="M100,4 C140,2 180,38 192,95 C200,150 180,204 106,216 L100,211 L94,216 C20,204 0,150 8,95 C20,38 60,2 100,4Z" fill="none" stroke="url(#pcs)" stroke-width="40"/>
 <rect x="30" y="22" width="24" height="18" fill="url(#spM)"/>
 <rect x="80" y="140" width="60" height="30" fill="url(#pcs)"/>
</g>
<path d="M1662,1236 L1692,1232 L1700,1250 L1692,1268 L1665,1266 L1658,1250Z" fill="#ff00ff"/>
<text x="1507" y="1003" font-size="28" font-style="italic" fill="#222" textLength="230" lengthAdjust="spacingAndGlyphs">sampling mask for</text>
<text x="1622" y="1036" font-size="28" font-style="italic" fill="#222" text-anchor="middle">final</text>
<text x="1509" y="1071" font-size="28" font-style="italic" fill="#222" textLength="224" lengthAdjust="spacingAndGlyphs">training/prediction</text>

<rect x="1797" y="1186" width="213" height="137" rx="28" fill="#000"/>
<text x="1851" y="1272" font-size="64" fill="#fff">M</text>
<text x="1905" y="1291" font-size="38" fill="#fff">p2</text>
<text x="1822" y="1345" font-size="24" fill="#222" textLength="169" lengthAdjust="spacingAndGlyphs">trained model 2</text>

<rect x="2213" y="746" width="390" height="68" rx="24" fill="#fff" stroke="#5351a6" stroke-width="3"/>
<text x="2228" y="773" font-size="23" fill="#111" textLength="359" lengthAdjust="spacingAndGlyphs">✪: 20 stochastic forward passes</text>
<text x="2228" y="802" font-size="23" fill="#111" textLength="359" lengthAdjust="spacingAndGlyphs">⊙: 50 stochastic forward passes</text>

<text x="2053" y="911" font-size="32" fill="#111" textLength="145" lengthAdjust="spacingAndGlyphs">sensitivity</text>
<line x1="2331" y1="902" x2="2250" y2="902" stroke="#8c8cf0" stroke-width="4"/>
<polygon points="2250,889 2250,915 2220,902" fill="#fff" stroke="#8c8cf0" stroke-width="4" stroke-linejoin="round"/>
<rect x="2354" y="844" width="108" height="107" fill="#fff" stroke="#ee1111" stroke-width="5"/>
<text x="2407" y="878" font-size="28" font-style="italic" fill="#111" text-anchor="middle">manual</text>
<text x="2407" y="911" font-size="28" font-style="italic" fill="#111" text-anchor="middle">lesion</text>
<text x="2407" y="944" font-size="28" font-style="italic" fill="#111" text-anchor="middle">label</text>
<polyline points="2540,1111 2540,897 2497,897" fill="none" stroke="#8c8cf0" stroke-width="4"/>
<polygon points="2497,884 2497,910 2467,897" fill="#fff" stroke="#8c8cf0" stroke-width="4" stroke-linejoin="round"/>
<rect x="2496" y="968" width="88" height="52" fill="#fff"/>
<text x="2540" y="989" font-size="20" fill="#ee22ee" text-anchor="middle">predicted</text>
<text x="2540" y="1015" font-size="20" fill="#ee22ee" text-anchor="middle">lesion</text>
<rect x="2465" y="1113" width="145" height="59" rx="20" fill="#fff" stroke="#ee22ee" stroke-width="5"/>
<text x="2537" y="1139" font-size="25" font-style="italic" fill="#111" text-anchor="middle">geometric</text>
<text x="2537" y="1168" font-size="25" font-style="italic" fill="#111" text-anchor="middle">correction</text>
<circle cx="2450" cy="1253" r="11" fill="#fff" stroke="#8c8cf0" stroke-width="4"/>
<polyline points="2461,1253 2540,1253 2540,1207" fill="none" stroke="#8c8cf0" stroke-width="4"/>
<polygon points="2527,1207 2553,1207 2540,1178" fill="#fff" stroke="#8c8cf0" stroke-width="4" stroke-linejoin="round"/>

<use href="#ax2" x="2134" y="986" width="139" height="160" style="color:#acacac"/>
<path d="M2224,1040 L2240,1037 L2252,1034 L2250,1046 L2238,1050 L2224,1050Z" fill="#ff0000"/>
<line x1="2339" y1="957" x2="2268" y2="1022" stroke="#000" stroke-width="2.5" stroke-dasharray="9 6"/>
<path d="M2255,1022 A12,14 0 0 1 2265,1048" fill="none" stroke="#000" stroke-width="2"/>

<use href="#ax2" x="2130" y="1158" width="145" height="176" style="color:#aaaaaa"/>
<g clip-path="url(#axc)" transform="translate(2130,1158) scale(0.725,0.8)">
 <path d="M100,4 C140,2 180,38 192,95 C200,150 180,204 106,216 L100,211 L94,216 C20,204 0,150 8,95 C20,38 60,2 100,4Z" fill="none" stroke="url(#pcs)" stroke-width="30"/>
 <rect x="70" y="20" width="50" height="40" fill="url(#pcs)"/>
</g>
<rect x="2230" y="1207" width="25" height="25" fill="#ff00ff"/>
<use href="#ax2" x="2279" y="1153" width="147" height="177" style="color:#acacac"/>
<g clip-path="url(#axc)" transform="translate(2279,1153) scale(0.735,0.805)">
 <path d="M100,4 C140,2 180,38 192,95 C200,150 180,204 106,216 L100,211 L94,216 C20,204 0,150 8,95 C20,38 60,2 100,4Z" fill="none" stroke="url(#pcs)" stroke-width="26"/>
 <rect x="40" y="20" width="40" height="30" fill="url(#pbs)"/>
 <rect x="120" y="85" width="50" height="25" fill="url(#pbs)"/>
</g>
<text x="2202" y="1363" font-size="19" font-style="italic" fill="#222" text-anchor="middle">predictive</text>
<text x="2202" y="1387" font-size="19" font-style="italic" fill="#222" text-anchor="middle">mean<tspan font-size="13" dy="-8">⊙</tspan></text>
<text x="2356" y="1363" font-size="19" font-style="italic" fill="#222" text-anchor="middle">predictive</text>
<text x="2356" y="1389" font-size="19" font-style="italic" fill="#222" text-anchor="middle">uncertainty</text>
<rect x="2439" y="1309" width="26" height="82" fill="url(#cbar2)"/>
<text x="2468" y="1325" font-size="19" fill="#666">0.5</text>
<text x="2468" y="1391" font-size="19" fill="#666">0.0</text>

<!-- ================= CAPTION 1 ================= -->
<g font-size="43" fill="#262626" style="white-space:pre">
<text x="19" y="1483" textLength="2632" lengthAdjust="spacingAndGlyphs"><tspan font-weight="bold" fill="#000">Figure 1</tspan> | TOP (<tspan fill="#5351a6">purple</tspan> border): Convolutional network architecture (CNN<tspan font-size="28" dy="8">x</tspan><tspan dy="-8">) for two-label (</tspan><tspan font-style="italic" fill="#111">lesional vs. non-lesional</tspan>) classification with three consecutive</text>
<text x="19" y="1538" textLength="2632" lengthAdjust="spacingAndGlyphs">convolutions (<tspan font-style="italic" fill="#111">kernel size</tspan>: 3x3x3, <tspan font-style="italic" fill="#111">filters</tspan>: 48,96,2) and max-pooling units, followed by a voxel-wise softmax classification using multimodal (FLAIR+T1w)</text>
<text x="19" y="1589" textLength="2632" lengthAdjust="spacingAndGlyphs">patches. Each convolution is followed by rectified linear units (<tspan fill="#1f4e8c">ReLu</tspan>), which introduce non-linearity. Batch normalization (<tspan fill="#1f4e8c">BN</tspan>) and <tspan fill="#1f4e8c">dropout (p=40%)</tspan> serve</text>
<text x="19" y="1641" textLength="2632" lengthAdjust="spacingAndGlyphs">as regularizers to prevent network overfitting. <tspan fill="#9b82c8">Dropout</tspan><tspan fill="#9b82c8" font-size="28" dy="8">MC</tspan><tspan fill="#9b82c8" dy="-8"> (p=20%)</tspan> operation after first and second convolution layers are essential to quantify the</text>
<text x="19" y="1698" textLength="2429" lengthAdjust="spacingAndGlyphs">epistemic uncertainly using dropout Monte Carlo. Adadelta serves as the gradient descent optimizer to minimize the binary crossentropy loss.</text>
<text x="19" y="1749" textLength="2632" lengthAdjust="spacingAndGlyphs"><tspan fill="#000">BOTTOM</tspan> (<tspan fill="#777">gray</tspan> border): Training and testing schema using two-stage CNN<tspan font-size="28" dy="8">x</tspan><tspan dy="-8"> cascade (CNN</tspan><tspan font-size="28" dy="8">1</tspan><tspan dy="-8">/CNN</tspan><tspan font-size="28" dy="8">2</tspan><tspan dy="-8">) that incorporates uncertainty information using</tspan></text>
<text x="19" y="1801" textLength="2632" lengthAdjust="spacingAndGlyphs">dropout Monte Carlo. Multimodal patches (centered around the voxel to classify) are sampled from a gray matter (GM) mask to reduce model training</text>
<text x="19" y="1854" textLength="2632" lengthAdjust="spacingAndGlyphs">time. This mask is generated using intra-subject z-score of FLAIR contrast, discarding hypointense voxels (z&lt;0.1). Performance (sensitivity) is measured</text>
<text x="19" y="1905" textLength="598" lengthAdjust="spacingAndGlyphs">relative to the <tspan fill="#ff1a1a">expert manual labels</tspan>.</text>
</g>

<!-- ================= BOTTOM FIGURE ================= -->
<rect x="0" y="1998" width="2679" height="46" fill="#ababab"/>
<text x="446" y="2146" font-size="56" font-weight="bold" fill="#000" textLength="244" lengthAdjust="spacingAndGlyphs">Patient 1</text>
<circle cx="1077" cy="2127" r="34" fill="none" stroke="#9b2a12" stroke-width="8"/>
<text x="1126" y="2143" font-size="44" fill="#111" textLength="126" lengthAdjust="spacingAndGlyphs">Lesion</text>
<circle cx="1339" cy="2128" r="35" fill="none" stroke="#000" stroke-width="8" stroke-dasharray="18 10"/>
<text x="1393" y="2143" font-size="44" fill="#111" textLength="265" lengthAdjust="spacingAndGlyphs">False positive</text>
<text x="1985" y="2146" font-size="56" font-weight="bold" fill="#000" textLength="247" lengthAdjust="spacingAndGlyphs">Patient 2</text>

<text x="109" y="2268" font-size="50" fill="#111" textLength="351" lengthAdjust="spacingAndGlyphs">Probability map</text>
<text x="679" y="2268" font-size="50" fill="#111" textLength="372" lengthAdjust="spacingAndGlyphs">Uncertainty map</text>
<text x="1639" y="2266" font-size="50" fill="#111" textLength="350" lengthAdjust="spacingAndGlyphs">Probability map</text>
<text x="2211" y="2266" font-size="50" fill="#111" textLength="374" lengthAdjust="spacingAndGlyphs">Uncertainty map</text>

<text x="1152" y="2366" font-size="40" fill="#333" textLength="388" lengthAdjust="spacingAndGlyphs">probability/uncertainty</text>
<text x="1308" y="2423" font-size="40" fill="#333" textLength="74" lengthAdjust="spacingAndGlyphs">high</text>
<text x="1296" y="2451" font-size="40" fill="#333" text-anchor="middle">1</text>
<rect x="1318" y="2432" width="57" height="177" fill="url(#cbar)"/>
<text x="1296" y="2622" font-size="40" fill="#333" text-anchor="middle">0</text>
<text x="1316" y="2645" font-size="40" fill="#333" textLength="59" lengthAdjust="spacingAndGlyphs">low</text>

<!-- P1 prob -->
<use href="#axE" x="17" y="2314" width="536" height="580" style="color:#a8a8a8"/>
<ellipse cx="120" cy="2440" rx="40" ry="28" fill="url(#spP)"/>
<ellipse cx="250" cy="2338" rx="30" ry="18" fill="url(#spP)"/>
<ellipse cx="85" cy="2540" rx="24" ry="30" fill="url(#spP)"/>
<ellipse cx="120" cy="2578" rx="30" ry="14" fill="url(#spP)"/>
<path d="M162,2520 L196,2514 L202,2545 L186,2576 L150,2582 L138,2562 L164,2546Z" fill="#ff00ff"/>
<ellipse cx="470" cy="2550" rx="40" ry="18" fill="url(#spP)"/>
<rect x="455" y="2545" width="22" height="14" fill="#e020ff"/>
<ellipse cx="158" cy="2554" rx="68" ry="68" fill="none" stroke="#9b2a12" stroke-width="10"/>
<ellipse cx="461" cy="2553" rx="63" ry="63" fill="none" stroke="#000" stroke-width="10" stroke-dasharray="26 14"/>

<!-- P1 unc -->
<use href="#axE" x="594" y="2312" width="543" height="584" style="color:#a8a8a8"/>
<ellipse cx="700" cy="2440" rx="38" ry="26" fill="url(#spM)"/>
<ellipse cx="830" cy="2336" rx="30" ry="18" fill="url(#spM)"/>
<ellipse cx="660" cy="2540" rx="22" ry="28" fill="url(#spM)"/>
<ellipse cx="690" cy="2580" rx="36" ry="15" fill="url(#spM)"/>
<path d="M736,2520 L772,2518 L776,2550 L760,2578 L730,2580 L724,2555 L745,2544Z" fill="#22eeff"/>
<rect x="745" y="2530" width="14" height="12" fill="#4aa0ff"/>
<ellipse cx="1050" cy="2552" rx="40" ry="20" fill="url(#spM)"/>
<ellipse cx="736" cy="2554" rx="68" ry="68" fill="none" stroke="#9b2a12" stroke-width="10"/>
<ellipse cx="1041" cy="2553" rx="62" ry="62" fill="none" stroke="#000" stroke-width="10" stroke-dasharray="26 14"/>

<!-- P2 prob -->
<use href="#ax3" x="1550" y="2289" width="528" height="621" style="color:#a8a8a8"/>
<ellipse cx="1716" cy="2395" rx="34" ry="42" fill="url(#spC)"/>
<ellipse cx="1810" cy="2395" rx="42" ry="36" fill="url(#spC)"/>
<ellipse cx="1610" cy="2783" rx="40" ry="45" fill="url(#spC)"/>
<rect x="1620" y="2805" width="20" height="25" fill="#ff00ff"/>
<ellipse cx="1990" cy="2777" rx="35" ry="22" fill="url(#spC)"/>
<ellipse cx="1625" cy="2650" rx="26" ry="16" fill="url(#spC)"/>
<ellipse cx="1762" cy="2770" rx="52" ry="58" fill="url(#spC)"/>
<rect x="1780" y="2775" width="26" height="50" fill="#ff00ff"/>
<path d="M1968,2522 L2000,2515 L2016,2535 L2010,2565 L1985,2574 L1960,2565 L1958,2540Z" fill="#ff00ff"/>
<path d="M2000,2515 L2016,2508 L2020,2528 L2012,2535Z" fill="#9a5cff"/>
<ellipse cx="1978" cy="2547" rx="68" ry="68" fill="none" stroke="#9b2a12" stroke-width="10"/>
<ellipse cx="1772" cy="2773" rx="87" ry="87" fill="none" stroke="#000" stroke-width="10" stroke-dasharray="28 15"/>

<!-- P2 unc -->
<use href="#ax3" x="2138" y="2289" width="521" height="621" style="color:#a8a8a8"/>
<ellipse cx="2300" cy="2392" rx="32" ry="40" fill="url(#spM)"/>
<ellipse cx="2395" cy="2398" rx="40" ry="34" fill="url(#spM)"/>
<ellipse cx="2198" cy="2783" rx="38" ry="45" fill="url(#spM)"/>
<ellipse cx="2572" cy="2787" rx="26" ry="18" fill="url(#spM)"/>
<ellipse cx="2348" cy="2770" rx="52" ry="60" fill="url(#spM)"/>
<rect x="2365" y="2760" width="20" height="55" fill="#b040ff"/>
<path d="M2552,2522 L2585,2515 L2598,2535 L2590,2565 L2565,2574 L2545,2565 L2543,2540Z" fill="#6a6aff"/>
<rect x="2556" y="2535" width="20" height="20" fill="#22e0ff"/>
<ellipse cx="2570" cy="2551" rx="68" ry="68" fill="none" stroke="#9b2a12" stroke-width="10"/>
<ellipse cx="2360" cy="2773" rx="88" ry="88" fill="none" stroke="#000" stroke-width="10" stroke-dasharray="28 15"/>

<!-- ================= CAPTION 2 ================= -->
<g font-size="52" fill="#000" style="white-space:pre">
<text x="30" y="3018" textLength="2615" lengthAdjust="spacingAndGlyphs"><tspan font-weight="bold">Figure 2 | Examples of automated FCD detection in MRI-negative FCD.</tspan> Two patients with probability</text>
<text x="30" y="3086" textLength="2615" lengthAdjust="spacingAndGlyphs">and  uncertainty  maps  showing  predictions.  The  hollow  circles  show  lesional  (solid  red)  and  false</text>
<text x="30" y="3154" textLength="2615" lengthAdjust="spacingAndGlyphs">positive (dashed black) clusters. In both cases, the FCD lesion has high probability and low uncertainty,</text>
<text x="30" y="3222" textLength="2615" lengthAdjust="spacingAndGlyphs">providing  high  confidence  to  the  clinician.  Conversely,  even  though  false  positives  may  have  high</text>
<text x="30" y="3290" textLength="1850" lengthAdjust="spacingAndGlyphs">probability, high uncertainty values make them very unlikely to be lesional.</text>
</g>
</svg>
</body></html>
